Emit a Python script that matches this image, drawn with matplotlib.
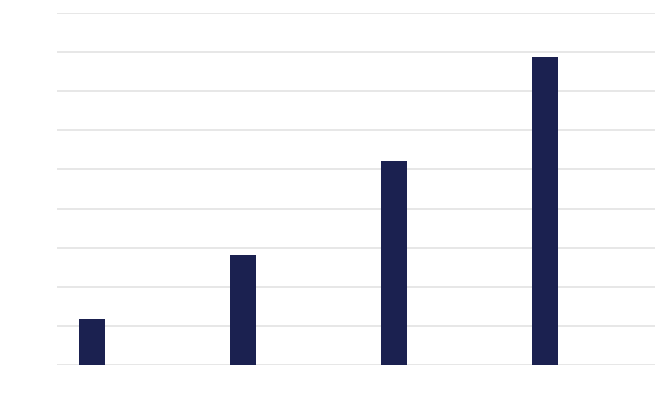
import matplotlib
matplotlib.use("Agg")
import matplotlib.pyplot as plt

categories = ["A", "B", "C", "D"]
values = [1.18, 2.82, 5.21, 7.87]

fig = plt.figure(figsize=(6.6, 3.97), dpi=100)
ax = fig.add_axes([57/660, 32/397, 598/660, 352/397])
x = list(range(len(categories)))
ax.bar(x, values, width=0.172, color="#1b2150", zorder=3)
ax.set_xlim(-0.232, 3.728)
ax.set_ylim(0, 9)
ax.set_yticks(range(0, 10))
ax.yaxis.grid(True, color="#e3e3e3", linewidth=1.2, zorder=0)
ax.tick_params(left=False, bottom=False, labelleft=False, labelbottom=False)
for s in ax.spines.values():
    s.set_visible(False)
ax.set_axisbelow(True)
fig.savefig("out.png", dpi=100)
